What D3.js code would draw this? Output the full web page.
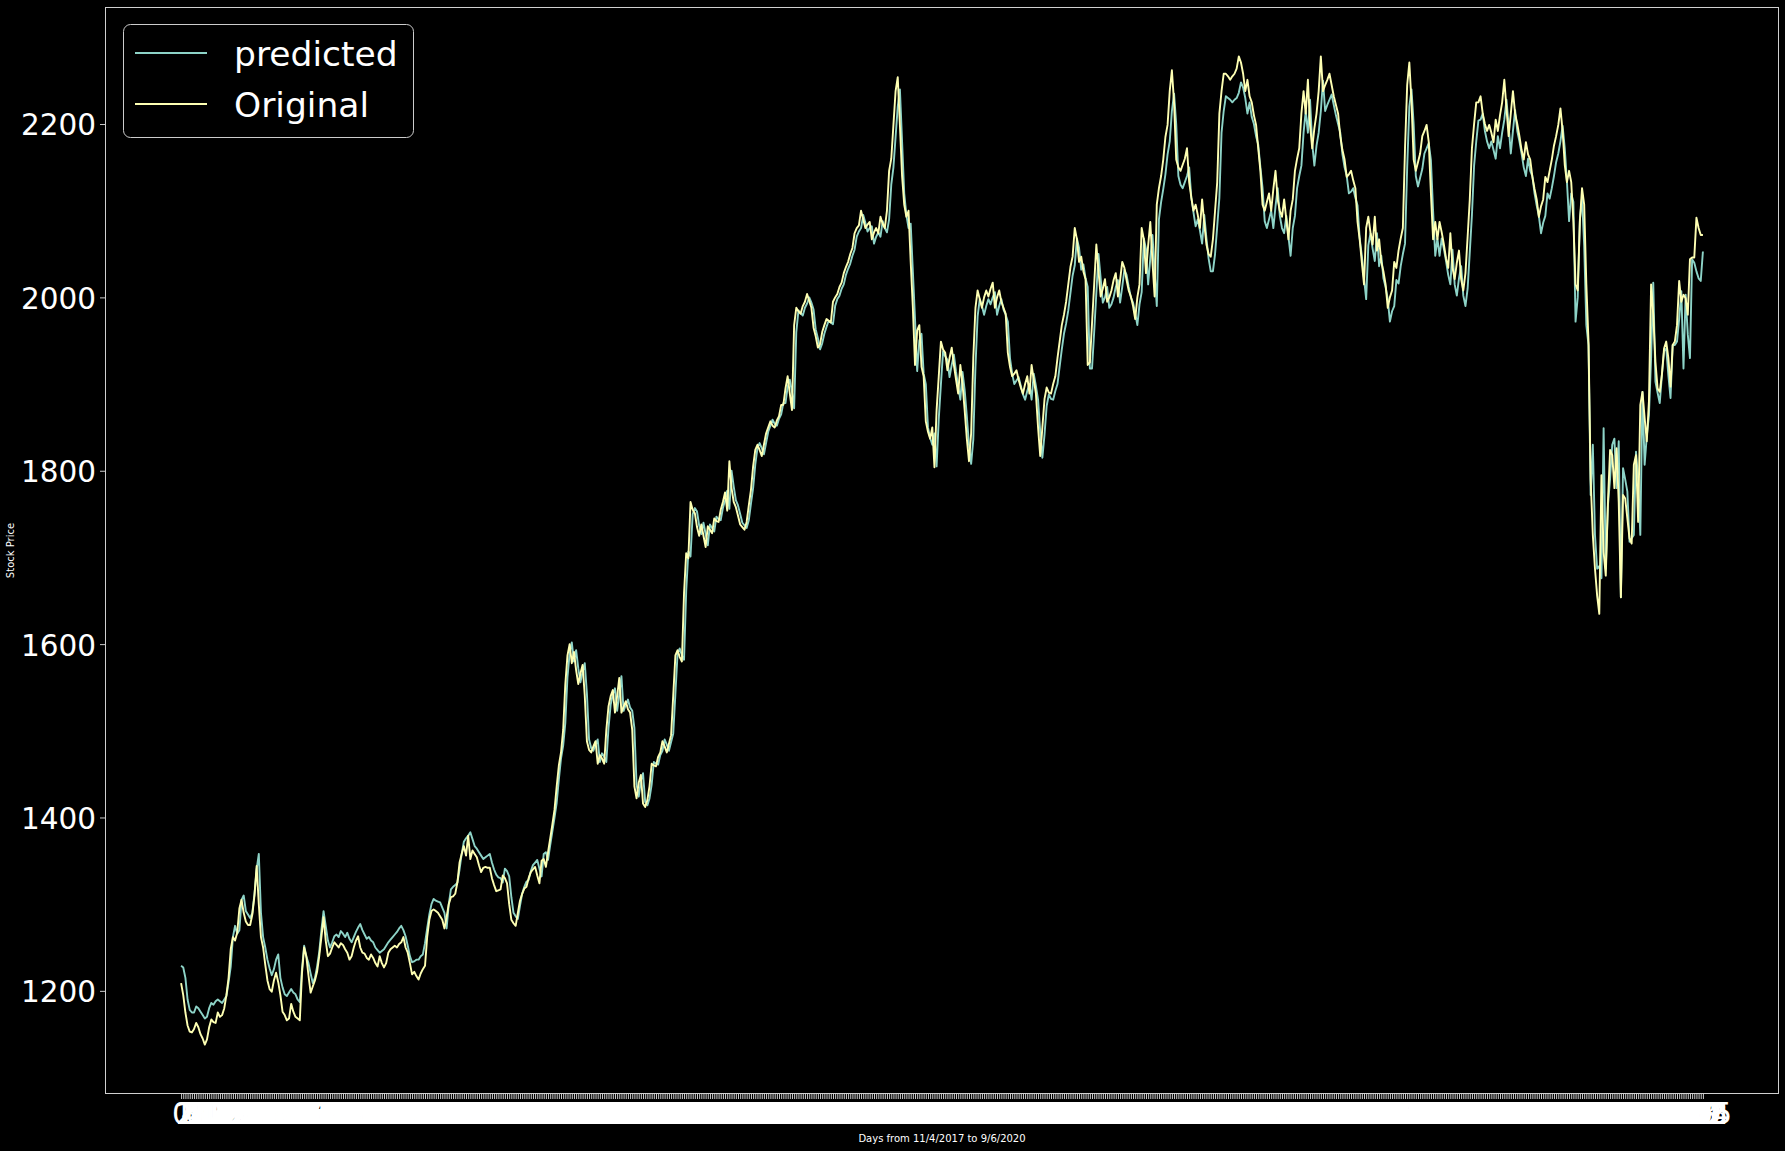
<!DOCTYPE html>
<html><head><meta charset="utf-8">
<script src="https://cdn.jsdelivr.net/npm/d3@7"></script>
<style>html,body{margin:0;padding:0;background:#000;}svg{display:block;}</style>
</head><body>
<script>
const original = [
1209,1195,1175,1160,1153,1152,1156,1163,1158,1150,
1145,1138,1144,1158,1167,1164,1163,1175,1170,1172,
1180,1195,1215,1248,1262,1258,1267,1295,1305,1290,
1280,1276,1276,1288,1310,1344,1300,1262,1250,1230,
1212,1202,1199,1212,1221,1210,1195,1176,1172,1166,
1168,1185,1176,1170,1168,1166,1220,1250,1240,1218,
1198,1205,1212,1222,1240,1262,1285,1258,1240,1243,
1250,1256,1253,1250,1255,1253,1248,1244,1236,1240,
1250,1258,1263,1250,1244,1243,1238,1236,1242,1238,
1232,1228,1240,1232,1227,1232,1244,1248,1250,
1252,1250,1254,1256,1262,1250,1244,1232,1219,1222,
1217,1213,1220,1225,1229,1262,1282,1292,1294,1292,
1290,1286,1282,1272,1285,1300,1308,1309,1312,1325,
1348,1358,1367,1356,1379,1352,1362,1358,1354,1345,
1337,1342,1343,1342,1342,1330,1322,1315,1316,1317,
1333,1330,1324,1300,1282,1278,1275,1290,1304,1312,
1318,1320,1330,1337,1340,1343,1333,1324,1350,1352,
1343,1360,1376,1392,1409,1436,1460,1475,1501,1554,
1587,1600,1578,1591,1570,1554,1566,1576,1541,1488,
1478,1475,1482,1488,1462,1472,1468,1462,1501,1528,
1540,1547,1521,1540,1561,1521,1528,1534,1525,1521,
1501,1436,1422,1440,1449,1416,1412,1420,1436,1462,
1460,1459,1470,1475,1488,1482,1475,1485,1495,1541,
1587,1593,1585,1580,1659,1705,1699,1764,1755,1751,
1735,1725,1738,1725,1712,1736,1732,1728,1745,1742,
1741,1755,1764,1775,1754,1811,1780,1764,1758,1748,
1738,1735,1732,1741,1760,1778,1805,1824,1830,1824,
1817,1830,1843,1850,1857,1852,1850,1858,1863,1876,
1876,1895,1909,1889,1870,1968,1988,1984,1981,1990,
1995,2004,1996,1988,1965,1955,1942,1946,1960,
1968,1975,1973,1971,1995,2000,2004,2012,2017,2028,
2035,2041,2050,2057,2074,2080,2083,2100,2090,2080,
2084,2087,2067,2075,2080,2074,2093,2085,2080,2100,
2146,2160,2199,2238,2254,2199,2140,2107,2093,2100,
2041,1988,1922,1962,1968,1920,1909,1857,1845,1837,
1850,1804,1870,1909,1949,1940,1936,1916,1930,1942,
1922,1905,1889,1922,1900,1870,1837,1811,1843,1930,
1988,2008,1998,1988,2000,2008,2001,2010,2017,1988,
2000,2008,1995,1988,1981,1936,1920,1909,1912,1916,
1905,1896,1889,1900,1909,1889,1922,1905,1889,1850,
1817,1850,1883,1896,1890,1889,1900,1909,1930,1949,
1968,1980,1995,2015,2035,2047,2080,2067,2041,2047,
2030,2021,1922,1925,1970,2015,2061,2030,2001,2010,
2021,1995,2000,2008,2020,2028,2001,2020,2041,2034,
2020,2008,2001,1990,1975,2000,2015,2080,2067,2028,
2060,2087,2041,2001,2107,2126,2140,2159,2185,2199,
2238,2262,2225,2159,2150,2146,2153,2160,2172,2133,
2115,2100,2107,2095,2080,2113,2085,2061,2050,
2047,2067,2100,2133,2212,2238,2258,2258,2255,2251,
2255,2258,2264,2278,2271,2258,2238,2251,2232,2225,
2210,2199,2172,2146,2107,2100,2110,2120,2100,2125,
2146,2113,2100,2093,2113,2090,2067,2100,2113,2146,
2160,2172,2212,2238,2212,2251,2199,2172,2195,2212,
2238,2278,2238,2245,2251,2258,2245,2232,2222,2212,
2186,2170,2159,2139,2142,2146,2135,2126,2087,2067,
2040,2015,2080,2093,2075,2061,2093,2054,2067,2041,
2030,2015,1988,2000,2008,2041,2034,2054,2068,
2080,2172,2245,2271,2225,2159,2146,2156,2166,2186,
2192,2199,2179,2120,2067,2087,2067,2087,2075,2061,
2045,2034,2074,2034,2021,2040,2054,2021,2008,2028,
2070,2113,2172,2200,2225,2225,2232,2212,2200,2192,
2199,2190,2179,2205,2192,2210,2225,2251,2218,2186,
2212,2238,2212,2200,2186,2170,2159,2179,2165,2159,
2139,2125,2113,2093,2105,2113,2139,2133,2146,2159,
2175,2186,2199,2218,2192,2153,2133,2146,2133,2087,
2015,2008,2087,2126,2107,2015,1949,1790,1726,1687,
1656,1635,1795,1706,1679,1764,1824,1818,1780,1826,
1764,1654,1772,1768,1745,1722,1716,1807,1818,1741,
1876,1891,1861,1834,1880,2015,1980,1926,1895,1891,
1911,1941,1949,1930,1897,1945,1949,1968,2019,1995,
2003,1999,1980,2044,2046,2046,2092,2080,2072,2072
];
const predicted = [
1229,1227,1215,1190,1178,1175,1175,1182,1180,1176,
1172,1168,1170,1180,1186,1184,1188,1190,1188,1186,
1190,1194,1210,1228,1262,1275,1266,1270,1305,1310,
1292,1288,1284,1290,1312,1340,1358,1290,1262,1250,
1236,1226,1218,1225,1236,1242,1215,1204,1196,1194,
1198,1202,1198,1196,1190,1187,1225,1252,1240,1232,
1220,1209,1215,1228,1245,1270,1292,1275,1258,1250,
1256,1263,1265,1262,1269,1266,1262,1267,1260,1256,
1262,1268,1273,1277,1270,1265,1260,1262,1258,1256,
1250,1247,1244,1246,1248,1252,1256,1259,1262,
1265,1268,1272,1275,1270,1263,1252,1240,1233,1234,
1236,1236,1240,1242,1255,1272,1288,1300,1306,1304,
1303,1302,1296,1290,1272,1300,1317,1320,1322,1325,
1340,1358,1372,1376,1379,1383,1375,1367,1364,1360,
1356,1352,1354,1356,1358,1348,1340,1334,1331,1330,
1325,1341,1338,1332,1308,1290,1286,1283,1298,1312,
1320,1326,1328,1338,1345,1348,1351,1341,1332,1358,
1360,1351,1368,1384,1400,1417,1444,1468,1483,1509,
1562,1589,1602,1580,1593,1572,1556,1568,1578,1543,
1490,1480,1477,1484,1490,1464,1474,1470,1464,1503,
1530,1542,1549,1523,1542,1563,1523,1530,1536,1527,
1523,1503,1438,1424,1442,1451,1418,1414,1422,1438,
1464,1462,1461,1472,1477,1490,1484,1477,1487,1497,
1543,1589,1595,1587,1582,1661,1707,1701,1750,1757,
1753,1737,1727,1740,1727,1714,1738,1734,1730,1747,
1744,1743,1757,1766,1777,1756,1800,1782,1766,1760,
1750,1740,1737,1734,1743,1762,1780,1807,1826,1832,
1826,1819,1832,1845,1852,1859,1854,1852,1860,1865,
1878,1878,1897,1905,1891,1872,1960,1985,1982,1979,
1988,1993,2000,1994,1986,1963,1953,1940,1947,
1958,1966,1973,1971,1969,1990,1998,2002,2010,2015,
2026,2033,2039,2048,2055,2070,2076,2080,2095,2086,
2076,2080,2082,2062,2070,2075,2070,2088,2080,2075,
2090,2130,2150,2185,2220,2240,2180,2120,2095,2080,
2085,2030,1975,1915,1950,1958,1912,1900,1850,1838,
1830,1843,1805,1860,1900,1938,1932,1928,1908,1922,
1934,1914,1898,1882,1914,1893,1863,1830,1808,1836,
1920,1978,1998,1990,1980,1990,1998,1992,2000,2006,
1980,1990,1998,1986,1980,1972,1930,1912,1900,1904,
1908,1898,1888,1882,1892,1900,1882,1912,1898,1882,
1845,1815,1842,1875,1888,1883,1882,1892,1900,1920,
1940,1958,1970,1985,2005,2025,2037,2068,2057,2032,
2038,2022,2012,1918,1918,1960,2005,2050,2022,1994,
2000,2012,1988,1992,2000,2012,2020,1994,2012,2032,
2026,2012,2000,1994,1982,1968,1992,2006,2068,2056,
2015,2045,2072,2030,1990,2090,2110,2125,2142,2165,
2180,2215,2235,2200,2140,2130,2126,2133,2140,2150,
2115,2098,2082,2090,2077,2062,2095,2068,2045,
2030,2030,2050,2082,2115,2190,2215,2232,2230,2228,
2225,2228,2230,2236,2248,2242,2230,2212,2225,2208,
2200,2186,2176,2150,2126,2088,2080,2090,2100,2080,
2105,2126,2094,2080,2074,2094,2070,2048,2080,2094,
2126,2140,2152,2190,2215,2190,2228,2178,2152,2175,
2190,2215,2250,2215,2222,2228,2234,2222,2210,2200,
2190,2165,2150,2140,2120,2122,2126,2115,2106,2068,
2048,2022,1998,2060,2074,2056,2042,2074,2036,2048,
2022,2012,1998,1972,1984,1990,2020,2016,2036,
2050,2062,2150,2220,2240,2200,2140,2128,2138,2148,
2166,2172,2178,2158,2100,2048,2068,2048,2068,2056,
2042,2026,2015,2055,2015,2002,2022,2036,2002,1990,
2010,2052,2095,2152,2180,2204,2205,2212,2192,2180,
2172,2180,2170,2160,2186,2172,2190,2205,2228,2198,
2166,2192,2216,2192,2180,2166,2150,2140,2160,2146,
2140,2120,2106,2094,2074,2086,2094,2120,2114,2126,
2140,2156,2166,2180,2198,2172,2134,2088,2120,2110,
1972,2000,2090,2115,2060,1968,1945,1772,1830,1726,
1687,1690,1676,1849,1687,1760,1791,1830,1837,1780,
1834,1654,1803,1790,1776,1718,1722,1726,1822,1790,
1726,1891,1807,1840,1864,1930,2017,1903,1890,1878,
1910,1938,1941,1910,1884,1945,1945,1949,1975,2007,
1918,2003,1957,1930,2044,2040,2030,2022,2019,2053
];
const yTicks = [1200, 1400, 1600, 1800, 2000, 2200];
const seriesNames = ["predicted", "Original"];
const seriesColors = ["#8dd3c7", "#feffb3"];
const xLabel = "Days from 11/4/2017 to 9/6/2020";
const yLabel = "Stock Price";
const dayLabels = d3.range(original.length).map(String);

const W = 1785, H = 1151;
const m = {left: 105, right: 1779, top: 7, bottom: 1094};
const FONT = "'DejaVu Sans', sans-serif";
const svg = d3.select("body").append("svg")
  .attr("width", W).attr("height", H)
  .style("background", "#000");

const n = original.length;
const x = d3.scaleLinear().domain([-0.05 * (n - 1), 1.05 * (n - 1)]).range([m.left, m.right]);
const all = original.concat(predicted);
const [lo, hi] = d3.extent(all);
const pad = (hi - lo) * 0.05;
const y = d3.scaleLinear().domain([lo - pad, hi + pad]).range([m.bottom, m.top]);

// X axis (one tick per day, overlapping labels)
const xAxis = svg.append("g").attr("transform", `translate(0,${m.bottom})`)
  .call(d3.axisBottom(x).tickValues(d3.range(n)).tickFormat(i => dayLabels[i]).tickSize(5).tickSizeOuter(0));
xAxis.select(".domain").remove();
xAxis.selectAll(".tick line").attr("stroke", "#ffffff").attr("stroke-width", 0.8);
xAxis.selectAll(".tick text").attr("fill", "#ffffff").attr("y", 30).attr("dy", 0)
  .style("font-family", FONT).style("font-size", "30px");

// Y axis
const yAxis = svg.append("g").attr("transform", `translate(${m.left},0)`)
  .call(d3.axisLeft(y).tickValues(yTicks).tickFormat(d3.format("d")).tickSize(5).tickSizeOuter(0));
yAxis.select(".domain").remove();
yAxis.selectAll(".tick line").attr("stroke", "#ffffff").attr("stroke-width", 0.8);
yAxis.selectAll(".tick text").attr("fill", "#ffffff").attr("x", -9).attr("dy", "0.37em")
  .style("font-family", FONT).style("font-size", "29.5px");

// Lines
const line = d3.line().x((d, i) => x(i)).y(d => y(d));
const plot = svg.append("g");
[predicted, original].forEach((s, k) => {
  plot.append("path").datum(s)
    .attr("fill", "none").attr("stroke", seriesColors[k])
    .attr("stroke-width", 1.9).attr("stroke-linejoin", "round")
    .attr("d", line);
});

// Frame
svg.append("rect").attr("x", m.left + 0.5).attr("y", m.top + 0.5)
  .attr("width", m.right - m.left - 1).attr("height", m.bottom - m.top - 1)
  .attr("fill", "none").attr("stroke", "#d0d0d0").attr("stroke-width", 1);

// Axis labels
svg.append("text").attr("x", (m.left + m.right) / 2).attr("y", 1142)
  .attr("text-anchor", "middle").attr("fill", "#ffffff")
  .style("font-family", FONT).style("font-size", "10px").text(xLabel);
svg.append("text").attr("transform", `translate(14,${(m.top + m.bottom) / 2}) rotate(-90)`)
  .attr("text-anchor", "middle").attr("fill", "#ffffff")
  .style("font-family", FONT).style("font-size", "10px").text(yLabel);

// Legend
const lg = svg.append("g");
lg.append("rect").attr("x", 123.5).attr("y", 24.5).attr("width", 290).attr("height", 113)
  .attr("rx", 7).attr("fill", "#000").attr("fill-opacity", 0.8)
  .attr("stroke", "#cccccc").attr("stroke-width", 1);
seriesNames.forEach((name, k) => {
  const cy = 53 + k * 51;
  lg.append("line").attr("x1", 135).attr("x2", 207).attr("y1", cy).attr("y2", cy)
    .attr("stroke", seriesColors[k]).attr("stroke-width", 1.9);
  lg.append("text").attr("x", 234).attr("y", cy + 13).attr("fill", "#ffffff")
    .style("font-family", FONT).style("font-size", "34.5px").text(name);
});
</script>
</body></html>
